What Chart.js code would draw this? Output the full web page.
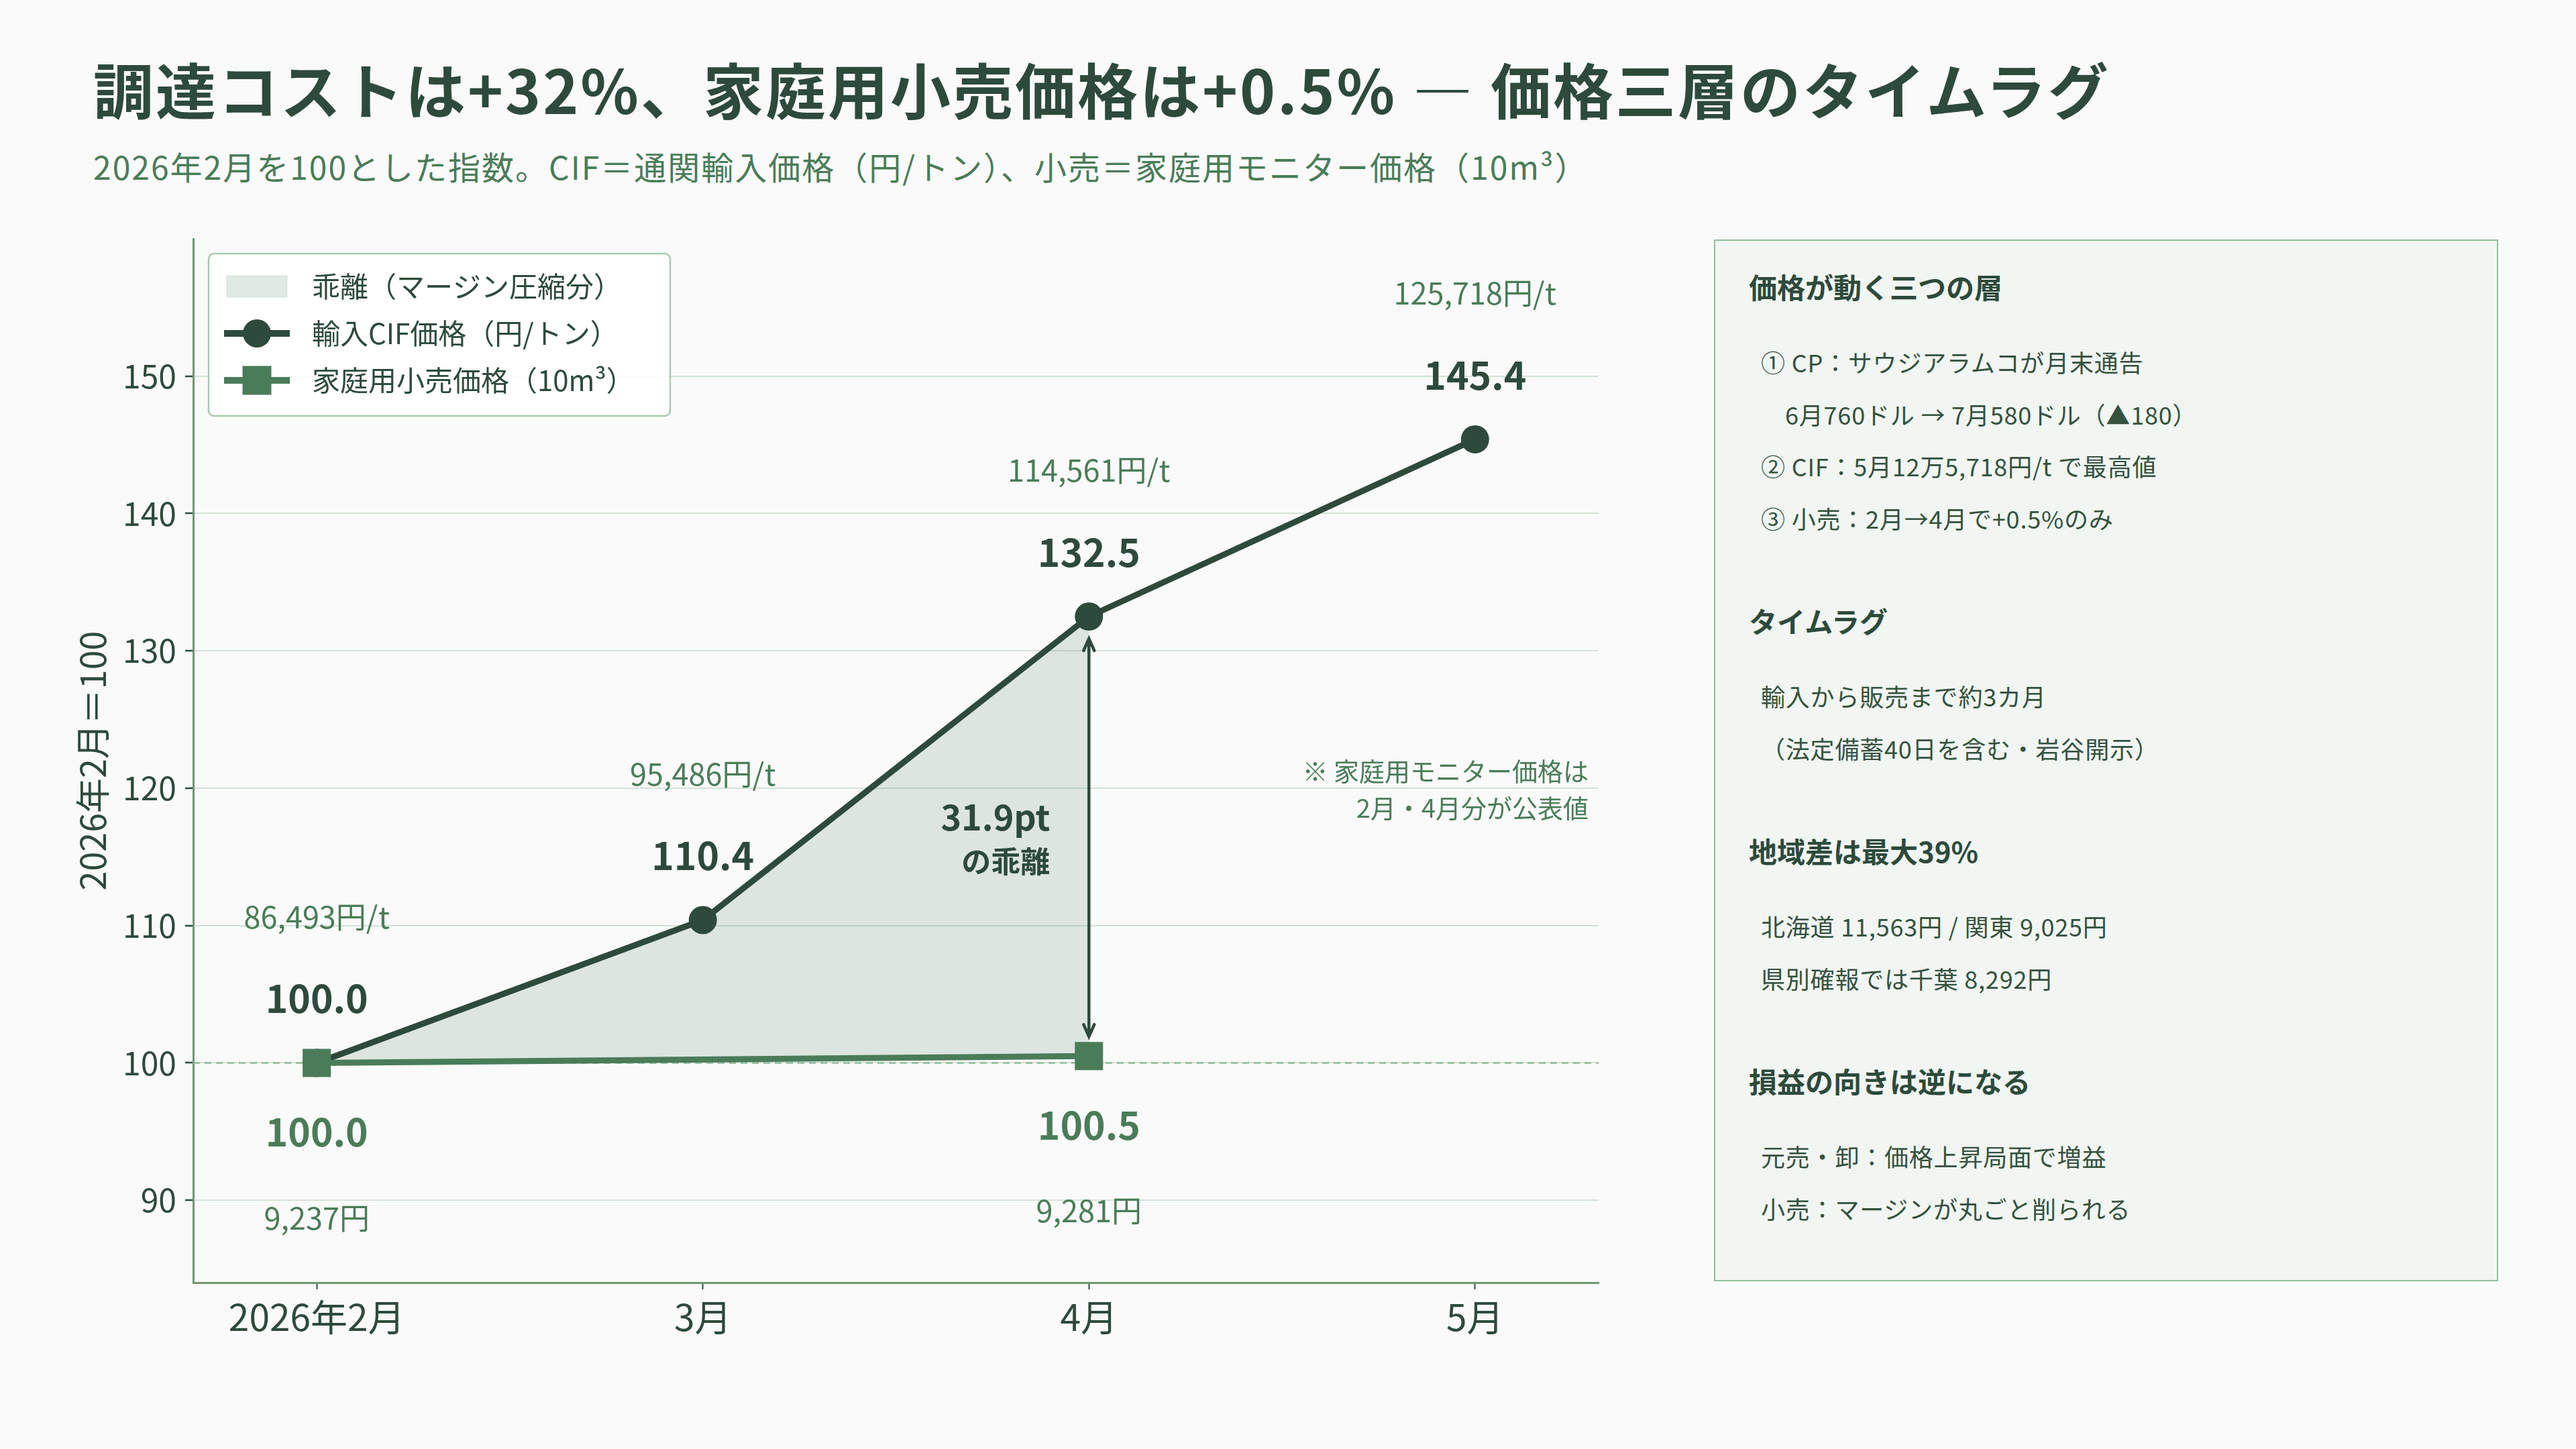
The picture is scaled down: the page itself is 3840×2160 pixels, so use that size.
<!DOCTYPE html>
<html lang="ja">
<head>
<meta charset="utf-8">
<title>価格三層のタイムラグ</title>
<script src="https://cdn.jsdelivr.net/npm/chart.js@4.4.1/dist/chart.umd.min.js"></script>
<style>
  html, body { margin: 0; padding: 0; background: #fafafa; }
  body {
    width: 3840px; height: 2160px; position: relative; overflow: hidden;
    font-family: "Noto Sans CJK JP", "Noto Sans", sans-serif; color: #2d4a3c;
  }
  #grafico { position: absolute; left: 0; top: 0; }
  h1 {
    position: absolute; left: 139px; top: 86px; margin: 0;
    font-size: 90px; line-height: 90px; font-weight: 700; color: #2d4a3c; white-space: nowrap;
    letter-spacing: 3px;
  }
  .sub {
    position: absolute; left: 139px; top: 223px; margin: 0;
    font-size: 48px; line-height: 48px; color: #4a7c59; white-space: nowrap;
    letter-spacing: 2px;
  }
  .painel {
    position: absolute; left: 2555px; top: 357px; width: 1169px; height: 1553px;
    box-sizing: border-box; border: 2px solid #8fc19c; background: #f1f6f2;
    padding: 38px 50px 0 50px;
  }
  .painel h3 { margin: 0; font-size: 42px; line-height: 60px; font-weight: 700; color: #2d4a3c; }
  .painel section + section { margin-top: 84px; }
  .painel .itens { margin-top: 44px; }
  .painel p {
    margin: 0; padding-left: 18px; font-size: 36px; line-height: 77.5px; color: #35513f;
    white-space: nowrap; letter-spacing: 0.8px;
  }
  .painel p.recuo { padding-left: 54px; }
</style>
</head>
<body>
<h1>調達コストは+32%、家庭用小売価格は+0.5% — 価格三層のタイムラグ</h1>
<p class="sub">2026年2月を100とした指数。CIF＝通関輸入価格（円/トン）、小売＝家庭用モニター価格（10m³）</p>

<canvas id="grafico" width="3840" height="2160"></canvas>

<div class="painel">
  <section>
    <h3>価格が動く三つの層</h3>
    <div class="itens">
      <p>① CP：サウジアラムコが月末通告</p>
      <p class="recuo">6月760ドル → 7月580ドル（▲180）</p>
      <p>② CIF：5月12万5,718円/t で最高値</p>
      <p>③ 小売：2月→4月で+0.5%のみ</p>
    </div>
  </section>
  <section>
    <h3>タイムラグ</h3>
    <div class="itens">
      <p>輸入から販売まで約3カ月</p>
      <p>（法定備蓄40日を含む・岩谷開示）</p>
    </div>
  </section>
  <section>
    <h3>地域差は最大39%</h3>
    <div class="itens">
      <p>北海道 11,563円 / 関東 9,025円</p>
      <p>県別確報では千葉 8,292円</p>
    </div>
  </section>
  <section>
    <h3>損益の向きは逆になる</h3>
    <div class="itens">
      <p>元売・卸：価格上昇局面で増益</p>
      <p>小売：マージンが丸ごと削られる</p>
    </div>
  </section>
</div>

<script>
// dados
const meses = ['2026年2月', '3月', '4月', '5月'];
const cifIndice = [100.0, 110.4, 132.5, 145.4];
const cifIene = ['86,493円/t', '95,486円/t', '114,561円/t', '125,718円/t'];
const varejoIndice = [100.0, null, 100.5, null];
const varejoIene = ['9,237円', null, '9,281円', null];
const yTicks = [90, 100, 110, 120, 130, 140, 150];
const base = 100;
const textoGap = ['31.9pt', 'の乖離'];
const textoNota = ['※ 家庭用モニター価格は', '2月・4月分が公表値'];

const fonte = '"Noto Sans CJK JP", "Noto Sans", sans-serif';
const escuro = '#2d4a3c';
const medio = '#4a7c59';
const corEixo = '#6f9676';
const corGrade = '#d3e3d5';
const corBase = '#8fbc98';
const corFaixa = 'rgba(74,124,89,0.17)';

function pontos(valores) {
    return valores.map(function(v, i) { return { x: i, y: v }; });
}

// linha tracejada em 100
const linhaBase = {
    id: 'linhaBase',
    beforeDatasetsDraw(chart) {
        const { ctx, chartArea, scales: { y } } = chart;
        const py = y.getPixelForValue(base);
        ctx.save();
        ctx.strokeStyle = corBase;
        ctx.lineWidth = 2.5;
        ctx.setLineDash([10, 7]);
        ctx.beginPath();
        ctx.moveTo(chartArea.left, py);
        ctx.lineTo(chartArea.right, py);
        ctx.stroke();
        ctx.restore();
    }
};

// rotulos, seta e nota
const rotulos = {
    id: 'rotulos',
    afterDatasetsDraw(chart) {
        const { ctx, chartArea, scales: { x, y } } = chart;
        ctx.save();
        ctx.textAlign = 'center';
        ctx.textBaseline = 'middle';

        cifIndice.forEach(function(v, i) {
            const px = x.getPixelForValue(i);
            const py = y.getPixelForValue(v);
            ctx.fillStyle = escuro;
            ctx.font = 'bold 57px ' + fonte;
            ctx.fillText(v.toFixed(1), px, py - 96);
            ctx.fillStyle = medio;
            ctx.font = '45px ' + fonte;
            ctx.fillText(cifIene[i], px, py - 218);
        });

        varejoIndice.forEach(function(v, i) {
            if (v === null) return;
            const px = x.getPixelForValue(i);
            const py = y.getPixelForValue(v);
            ctx.fillStyle = medio;
            ctx.font = 'bold 57px ' + fonte;
            ctx.fillText(v.toFixed(1), px, py + 103);
            ctx.font = '45px ' + fonte;
            ctx.fillText(varejoIene[i], px, py + 231);
        });

        // seta dupla em abril
        const ax = x.getPixelForValue(2);
        const topo = y.getPixelForValue(cifIndice[2]) + 33;
        const fundo = y.getPixelForValue(varejoIndice[2]) - 29;
        ctx.strokeStyle = escuro;
        ctx.lineWidth = 4.5;
        ctx.lineCap = 'round';
        ctx.beginPath();
        ctx.moveTo(ax, topo);
        ctx.lineTo(ax, fundo);
        ctx.moveTo(ax - 8, topo + 18);
        ctx.lineTo(ax, topo);
        ctx.lineTo(ax + 8, topo + 18);
        ctx.moveTo(ax - 8, fundo - 18);
        ctx.lineTo(ax, fundo);
        ctx.lineTo(ax + 8, fundo - 18);
        ctx.stroke();

        const meio = (topo + fundo) / 2;
        ctx.textAlign = 'right';
        ctx.fillStyle = escuro;
        ctx.font = 'bold 52px ' + fonte;
        ctx.fillText(textoGap[0], ax - 58, meio - 30);
        ctx.font = 'bold 44px ' + fonte;
        ctx.fillText(textoGap[1], ax - 58, meio + 36);

        // nota
        const ny = y.getPixelForValue(120);
        ctx.fillStyle = medio;
        ctx.font = '38px ' + fonte;
        ctx.fillText(textoNota[0], chartArea.right - 15, ny - 25);
        ctx.fillText(textoNota[1], chartArea.right - 15, ny + 30);
        ctx.restore();
    }
};

// legenda dentro do grafico
const legenda = {
    id: 'legenda',
    afterDraw(chart) {
        const { ctx, chartArea } = chart;
        const ds = chart.data.datasets;
        const bx = chartArea.left + 23, by = chartArea.top + 22, bw = 688, bh = 242;
        ctx.save();
        ctx.fillStyle = 'rgba(255,255,255,0.88)';
        ctx.strokeStyle = '#a8cbb0';
        ctx.lineWidth = 2.5;
        ctx.beginPath();
        ctx.roundRect(bx, by, bw, bh, 8);
        ctx.fill();
        ctx.stroke();

        const sx = bx + 72, tx = bx + 154;
        const itens = [ds[2], ds[0], ds[1]];
        ctx.textAlign = 'left';
        ctx.textBaseline = 'middle';
        ctx.font = '42px ' + fonte;
        itens.forEach(function(d, k) {
            const cy = by + 49 + k * 70;
            if (k === 0) {
                ctx.fillStyle = d.backgroundColor;
                ctx.fillRect(sx - 45, cy - 16, 90, 32);
                ctx.strokeStyle = 'rgba(74,124,89,0.08)';
                ctx.lineWidth = 2;
                ctx.strokeRect(sx - 45, cy - 16, 90, 32);
            } else {
                ctx.strokeStyle = d.borderColor;
                ctx.lineWidth = 10;
                ctx.lineCap = 'butt';
                ctx.beginPath();
                ctx.moveTo(sx - 49, cy);
                ctx.lineTo(sx + 49, cy);
                ctx.stroke();
                ctx.fillStyle = d.pointBackgroundColor;
                if (d.pointStyle === 'rect') {
                    ctx.fillRect(sx - 21.5, cy - 21.5, 43, 43);
                } else {
                    ctx.beginPath();
                    ctx.arc(sx, cy, 21, 0, Math.PI * 2);
                    ctx.fill();
                }
            }
            ctx.fillStyle = escuro;
            ctx.fillText(d.label, tx, cy);
        });
        ctx.restore();
    }
};

const ctx = document.getElementById('grafico');

const grafico = new Chart(ctx, {
    type: 'line',
    data: {
        datasets: [{
            label: '輸入CIF価格（円/トン）',
            data: pontos(cifIndice),
            borderColor: escuro,
            borderWidth: 9,
            pointStyle: 'circle',
            pointRadius: 21,
            pointBorderWidth: 0,
            pointBackgroundColor: escuro,
            tension: 0,
            order: 2
        }, {
            label: '家庭用小売価格（10m³）',
            data: pontos(varejoIndice),
            borderColor: medio,
            borderWidth: 9,
            pointStyle: 'rect',
            pointRadius: 29.7,
            pointBorderWidth: 0,
            pointBackgroundColor: medio,
            spanGaps: true,
            tension: 0,
            order: 1
        }, {
            label: '乖離（マージン圧縮分）',
            data: pontos(cifIndice),
            borderWidth: 0,
            pointRadius: 0,
            backgroundColor: corFaixa,
            fill: { target: 1, above: corFaixa, below: corFaixa },
            order: 3
        }]
    },
    options: {
        responsive: false,
        animation: false,
        events: [],
        layout: {
            padding: { left: 0, top: 356, right: 1457, bottom: 128 }
        },
        plugins: {
            legend: { display: false },
            tooltip: { enabled: false }
        },
        scales: {
            x: {
                type: 'linear',
                min: -0.32,
                max: 3.32,
                afterBuildTicks: function(s) {
                    s.ticks = meses.map(function(m, i) { return { value: i }; });
                },
                afterFit: function(s) { s.height = 120; },
                grid: {
                    drawOnChartArea: false,
                    drawTicks: true,
                    tickLength: 10,
                    tickColor: escuro,
                    tickWidth: 2
                },
                border: { color: corEixo, width: 3 },
                ticks: {
                    callback: function(v) { return meses[v]; },
                    font: { size: 55, family: fonte },
                    color: escuro,
                    padding: 8,
                    maxRotation: 0,
                    autoSkip: false
                }
            },
            y: {
                min: 84,
                max: 160,
                afterBuildTicks: function(s) {
                    s.ticks = yTicks.map(function(v) { return { value: v }; });
                },
                afterFit: function(s) { s.width = 288; },
                grid: {
                    color: corGrade,
                    lineWidth: 2,
                    tickLength: 12,
                    tickColor: escuro,
                    tickWidth: 2.5
                },
                border: { color: corEixo, width: 3 },
                ticks: {
                    font: { size: 48, family: fonte },
                    color: escuro,
                    padding: 13
                },
                title: {
                    display: true,
                    text: '2026年2月＝100',
                    font: { size: 52, family: fonte },
                    color: escuro,
                    padding: { top: 107, bottom: 0 }
                }
            }
        }
    },
    plugins: [linhaBase, rotulos, legenda]
});
</script>
</body>
</html>
